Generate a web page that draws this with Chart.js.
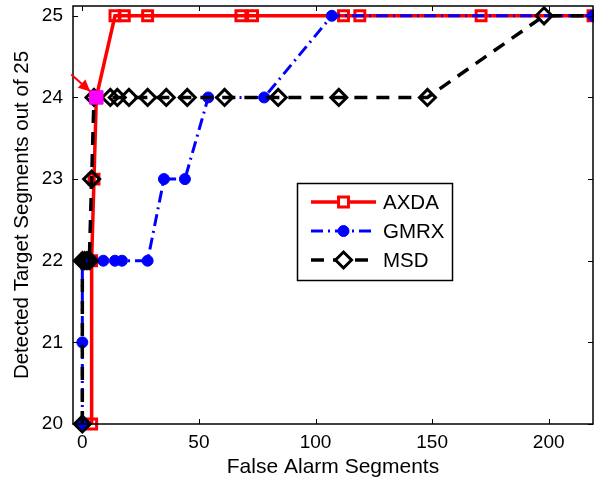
<!DOCTYPE html>
<html>
<head>
<meta charset="utf-8">
<script src="https://cdn.jsdelivr.net/npm/chart.js@4/dist/chart.umd.min.js"></script>
<style>
  html, body { margin: 0; padding: 0; background: #fff; }
  #wrap { width: 594px; height: 481px; }
</style>
</head>
<body>
<div id="wrap"><canvas id="c" width="594" height="481"></canvas></div>
<script>
// tick labels
const xTicks = [0, 50, 100, 150, 200];
const yTicks = [20, 21, 22, 23, 24, 25];

// AXDA (red, squares)
const axdaX = [4, 4, 5, 6, 14, 18, 28, 68, 73, 112, 119, 171, 219];
const axdaY = [20, 22, 23, 24, 25, 25, 25, 25, 25, 25, 25, 25, 25];

// GMRX (blue, circles)
const gmrxX = [0, 0, 0, 4, 9, 14, 17, 28, 35, 44, 54, 78, 107, 219];
const gmrxY = [20, 21, 22, 22, 22, 22, 22, 22, 23, 23, 24, 24, 25, 25];

// MSD (black, diamonds)
const msdX = [0, 0, 1, 2, 3, 4, 5, 12, 15, 20, 28, 36, 45, 61, 84, 110, 148, 198, 230];
const msdY = [20, 22, 22, 22, 22, 23, 24, 24, 24, 24, 24, 24, 24, 24, 24, 24, 24, 25, 25];

// highlighted operating point
const markX = [6];
const markY = [24];

const seriesNames = ['AXDA', 'GMRX', 'MSD'];

const FONT = '"Liberation Sans", Arial, Helvetica, sans-serif';
Chart.defaults.font.family = FONT;
Chart.defaults.color = '#000';

const toPts = (xs, ys) => xs.map((x, i) => ({ x: x, y: ys[i] }));

const styles = [
  { color: '#ff0000', width: 3.5, dash: [], point: 'rect', radius: 7 },
  { color: '#0000ff', width: 3, dash: [12, 5, 2, 5], point: 'circle', radius: 5.5 },
  { color: '#000000', width: 3.5, dash: [13, 9], point: 'rectRot', radius: 8 }
];

// inward ticks + box, like matlab axes
const axesBox = {
  id: 'axesBox',
  afterDatasetsDraw(chart) {
    const { ctx, chartArea: a, scales } = chart;
    ctx.save();
    ctx.strokeStyle = '#000';
    ctx.lineWidth = 1;
    ctx.beginPath();
    xTicks.forEach(v => {
      const px = Math.round(scales.x.getPixelForValue(v)) + 0.5;
      ctx.moveTo(px, a.bottom); ctx.lineTo(px, a.bottom - 5);
      ctx.moveTo(px, a.top); ctx.lineTo(px, a.top + 5);
    });
    yTicks.forEach(v => {
      const py = Math.round(scales.y.getPixelForValue(v)) + 0.5;
      ctx.moveTo(a.left, py); ctx.lineTo(a.left + 5, py);
      ctx.moveTo(a.right, py); ctx.lineTo(a.right - 5, py);
    });
    ctx.stroke();
    ctx.lineWidth = 1.5;
    ctx.strokeRect(a.left, a.top, a.right - a.left, a.bottom - a.top);
    ctx.restore();
  },
  afterDraw(chart) {
    const { ctx, scales } = chart;
    ctx.save();

    // red arrow to the marked point
    const tx = scales.x.getPixelForValue(markX[0]) - 6;
    const ty = scales.y.getPixelForValue(markY[0]) - 6;
    const sx = tx - 19, sy = ty - 17;
    const ang = Math.atan2(ty - sy, tx - sx);
    ctx.strokeStyle = '#ff0000';
    ctx.fillStyle = '#ff0000';
    ctx.lineWidth = 2;
    ctx.beginPath(); ctx.moveTo(sx, sy); ctx.lineTo(tx, ty); ctx.stroke();
    ctx.beginPath();
    ctx.moveTo(tx, ty);
    ctx.lineTo(tx - 13 * Math.cos(ang - 0.45), ty - 13 * Math.sin(ang - 0.45));
    ctx.lineTo(tx - 13 * Math.cos(ang + 0.45), ty - 13 * Math.sin(ang + 0.45));
    ctx.closePath(); ctx.fill();

    // legend box
    const bx = 297.5, by = 183.5, bw = 155, bh = 97;
    ctx.fillStyle = '#fff';
    ctx.fillRect(bx, by, bw, bh);
    ctx.strokeStyle = '#000';
    ctx.lineWidth = 1.5;
    ctx.strokeRect(bx, by, bw, bh);
    const rowsY = [202, 231, 260];
    seriesNames.forEach((name, i) => {
      const st = styles[i];
      const y = rowsY[i];
      ctx.strokeStyle = st.color;
      ctx.lineWidth = st.width;
      ctx.setLineDash(st.dash);
      ctx.beginPath(); ctx.moveTo(311, y); ctx.lineTo(376, y); ctx.stroke();
      ctx.setLineDash([]);
      const opts = {
        pointStyle: st.point, radius: st.radius, rotation: 0,
        borderWidth: i === 1 ? 1 : 3
      };
      ctx.fillStyle = i === 1 ? st.color : '#fff';
      ctx.lineWidth = opts.borderWidth;
      Chart.helpers.drawPoint(ctx, opts, 343.5, y);
      ctx.fillStyle = '#000';
      ctx.font = '20.5px ' + FONT;
      ctx.textAlign = 'left';
      ctx.textBaseline = 'middle';
      ctx.fillText(name, 383, y + 1);
    });
    ctx.restore();
  }
};

const seriesData = [toPts(axdaX, axdaY), toPts(gmrxX, gmrxY), toPts(msdX, msdY)];

const datasets = seriesNames.map((name, i) => {
  const st = styles[i];
  return {
    label: name,
    data: seriesData[i],
    borderColor: st.color,
    borderWidth: st.width,
    borderDash: st.dash,
    pointStyle: st.point,
    pointRadius: st.radius,
    pointBorderColor: st.color,
    pointBackgroundColor: i === 1 ? st.color : 'rgba(0,0,0,0)',
    pointBorderWidth: i === 1 ? 1 : 3,
    tension: 0,
    fill: false,
    clip: false,
    order: 2 - i
  };
});

datasets.push({
  label: 'mark',
  data: toPts(markX, markY),
  showLine: false,
  pointStyle: 'rect',
  pointRadius: 9.5,
  pointBackgroundColor: '#ff00ff',
  pointBorderColor: '#ee00ee',
  pointBorderWidth: 1,
  clip: false,
  order: -1
});

new Chart(document.getElementById('c'), {
  type: 'scatter',
  data: { datasets: datasets },
  options: {
    responsive: false,
    animation: false,
    showLine: true,
    layout: { autoPadding: false, padding: { top: 6, right: 1, left: 0, bottom: 0 } },
    plugins: { legend: { display: false }, tooltip: { enabled: false } },
    scales: {
      x: {
        type: 'linear',
        min: -4,
        max: 219,
        afterBuildTicks: s => { s.ticks = xTicks.map(v => ({ value: v })); },
        afterFit: s => { s.height = 57; s.paddingLeft = 0; s.paddingRight = 0; },
        grid: { display: false, drawTicks: false },
        border: { display: false },
        ticks: { padding: 7, font: { size: 19 }, color: '#000', maxRotation: 0 },
        title: {
          display: true,
          text: 'False Alarm Segments',
          font: { size: 21 },
          color: '#000',
          padding: { top: 0, bottom: 1.5 }
        }
      },
      y: {
        type: 'linear',
        min: 20,
        max: 25.12,
        afterBuildTicks: s => { s.ticks = yTicks.map(v => ({ value: v })); },
        afterFit: s => { s.width = 73; s.paddingTop = 0; s.paddingBottom = 0; },
        grid: { display: false, drawTicks: false },
        border: { display: false },
        ticks: { padding: 10, font: { size: 19 }, color: '#000' },
        title: {
          display: true,
          text: 'Detected Target Segments out of 25',
          font: { size: 20.5 },
          color: '#000',
          padding: { top: 10, bottom: 0 }
        }
      }
    }
  },
  plugins: [axesBox]
});
</script>
</body>
</html>
